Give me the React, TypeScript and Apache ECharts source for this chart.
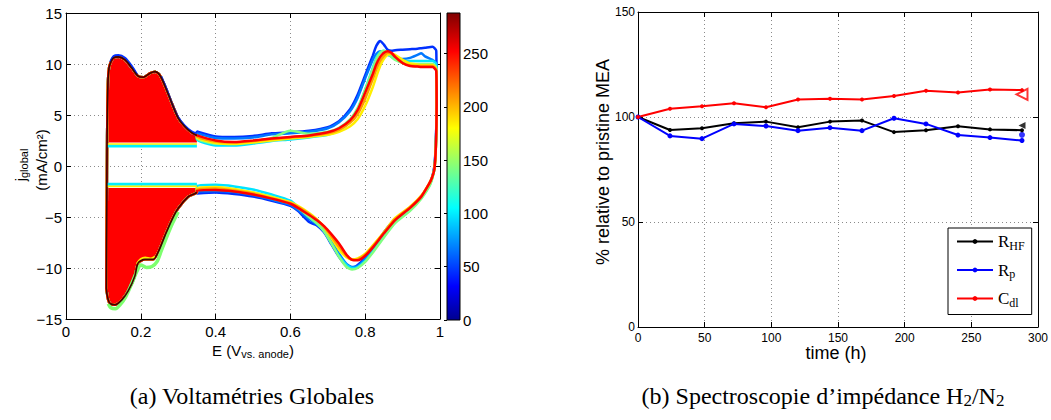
import React, { useEffect, useRef } from 'react';
import * as echarts from 'echarts';

// ================= (a) Cyclic voltammograms =================
// colour of each cycle (ageing time, h) on the jet colour scale
const CURVE_TIMES_H = [24, 48, 96, 144, 192, 216, 264];
const CURVE_COLORS = ['#0030ff', '#0078ff', '#00e4ff', '#80ff80', '#ffee00', '#ff9c00', '#ff0000'];

// shared low-potential part (hydrogen region) of the loops
const LEFT_UP_E = [0.108, 0.109, 0.110, 0.112, 0.115, 0.12, 0.127, 0.14, 0.158, 0.176, 0.193, 0.207, 0.225, 0.238, 0.251, 0.265, 0.283, 0.30, 0.318, 0.336, 0.35];
const LEFT_UP_J = [-12.0, -4.0, 3.0, 8.0, 9.6, 10.2, 10.6, 10.7, 10.4, 9.6, 8.8, 8.7, 9.1, 9.25, 8.9, 7.8, 6.15, 4.7, 3.85, 3.27, 3.0];
const LEFT_DOWN_E = [0.35, 0.345, 0.327, 0.30, 0.283, 0.265, 0.247, 0.233, 0.211, 0.193, 0.184, 0.167, 0.15, 0.131, 0.118, 0.112, 0.108];
const LEFT_DOWN_J = [-2.6, -2.7, -3.0, -4.15, -5.3, -6.8, -8.4, -9.15, -9.15, -9.5, -10.8, -12.2, -13.1, -13.6, -13.5, -13.0, -12.0];

// anodic sweep (0.35 -> 0.99 V)
const E_ANODIC = [0.35, 0.40, 0.45, 0.50, 0.55, 0.60, 0.65, 0.70, 0.73, 0.76, 0.78, 0.80, 0.82, 0.83, 0.84, 0.85, 0.86, 0.87, 0.88, 0.90, 0.92, 0.94, 0.95, 0.96, 0.98, 0.99];
const J_AN_24 = [3.4, 2.9, 2.85, 2.95, 3.2, 3.3, 3.45, 3.8, 4.4, 5.6, 7.0, 8.9, 10.8, 11.8, 12.25, 11.9, 11.4, 11.3, 11.35, 11.4, 11.45, 11.5, 11.55, 11.6, 11.7, 11.3];
const J_AN_48 = [3.2, 2.75, 2.7, 2.8, 3.1, 3.2, 3.35, 3.7, 4.3, 5.4, 6.7, 8.6, 10.4, 11.0, 11.25, 11.1, 10.9, 10.8, 10.65, 10.5, 10.6, 10.9, 11.05, 10.75, 10.4, 10.1];
const J_AN_96 = [2.6, 2.0, 2.0, 2.2, 2.45, 2.6, 2.8, 3.05, 3.5, 4.4, 5.6, 7.5, 9.6, 10.6, 11.15, 11.3, 11.0, 10.7, 10.5, 10.3, 10.3, 10.3, 10.3, 10.3, 10.3, 10.0];
const J_AN_144 = [2.7, 2.2, 2.2, 2.4, 2.75, 3.45, 3.15, 3.35, 3.75, 4.6, 5.7, 7.5, 9.5, 10.5, 11.1, 11.3, 11.1, 10.7, 10.4, 10.1, 10.0, 10.0, 10.0, 10.0, 10.0, 9.7];
const J_AN_192 = [2.8, 2.25, 2.15, 2.3, 2.5, 2.7, 2.85, 3.05, 3.35, 3.9, 4.6, 5.9, 7.7, 8.8, 9.8, 10.5, 10.9, 11.0, 10.9, 10.4, 10.05, 9.95, 9.9, 9.9, 9.9, 9.5];
const J_AN_216 = [2.9, 2.4, 2.3, 2.45, 2.65, 2.8, 2.95, 3.2, 3.55, 4.25, 5.1, 6.6, 8.5, 9.5, 10.3, 10.8, 11.1, 11.05, 10.75, 10.1, 9.85, 9.8, 9.8, 9.8, 9.8, 9.4];
const J_AN_264 = [3.0, 2.5, 2.35, 2.5, 2.7, 2.85, 3.0, 3.3, 3.7, 4.5, 5.5, 7.2, 9.0, 10.0, 10.7, 11.1, 11.25, 11.1, 10.7, 10.1, 9.8, 9.75, 9.7, 9.7, 9.7, 9.3];

// cathodic sweep (0.99 -> 0.35 V)
const E_CATHODIC = [0.991, 0.989, 0.985, 0.978, 0.97, 0.95, 0.92, 0.88, 0.85, 0.82, 0.80, 0.78, 0.765, 0.75, 0.73, 0.71, 0.69, 0.67, 0.65, 0.62, 0.60, 0.55, 0.50, 0.45, 0.40, 0.35];
const J_CA_24 = [6.5, 2.5, 0.0, -1.3, -2.0, -3.1, -4.2, -5.2, -6.5, -8.1, -9.0, -9.7, -10.0, -9.8, -8.9, -7.7, -6.5, -5.8, -5.5, -4.4, -3.9, -3.4, -3.0, -2.75, -2.6, -2.7];
const J_CA_48 = [6.3, 2.3, -0.1, -1.2, -1.9, -3.0, -4.2, -5.4, -6.7, -8.2, -9.1, -9.8, -9.9, -9.6, -8.6, -7.4, -6.3, -5.7, -5.2, -4.3, -3.8, -3.3, -2.85, -2.55, -2.45, -2.5];
const J_CA_96 = [6.0, 2.0, -0.3, -1.3, -2.0, -3.1, -4.3, -5.5, -6.9, -8.4, -9.3, -9.9, -10.0, -9.7, -8.8, -7.6, -6.4, -5.6, -5.0, -4.0, -3.4, -2.8, -2.3, -2.0, -1.85, -1.95];
const J_CA_144 = [6.0, 2.0, -0.3, -1.4, -2.1, -3.2, -4.4, -5.6, -7.0, -8.5, -9.4, -10.0, -10.15, -9.9, -8.9, -7.6, -6.4, -5.6, -5.0, -4.1, -3.6, -3.0, -2.6, -2.3, -2.1, -2.2];
const J_CA_192 = [5.8, 1.8, -0.3, -1.2, -1.8, -2.9, -4.0, -5.1, -6.5, -7.8, -8.6, -9.05, -9.15, -8.95, -8.2, -7.1, -6.0, -5.2, -4.6, -3.9, -3.55, -3.05, -2.6, -2.25, -2.05, -2.15];
const J_CA_216 = [5.9, 1.9, -0.25, -1.2, -1.8, -2.95, -4.05, -5.2, -6.55, -7.9, -8.7, -9.15, -9.2, -8.8, -7.9, -6.9, -5.95, -5.25, -4.7, -4.0, -3.65, -3.15, -2.7, -2.4, -2.2, -2.3];
const J_CA_264 = [6.0, 2.0, -0.3, -1.2, -1.8, -3.0, -4.1, -5.3, -6.6, -8.0, -8.8, -9.25, -9.2, -8.7, -7.6, -6.7, -5.9, -5.3, -4.8, -4.1, -3.7, -3.2, -2.8, -2.5, -2.35, -2.4];

const J_ANODIC = [J_AN_24, J_AN_48, J_AN_96, J_AN_144, J_AN_192, J_AN_216, J_AN_264];
const J_CATHODIC = [J_CA_24, J_CA_48, J_CA_96, J_CA_144, J_CA_192, J_CA_216, J_CA_264];

// edges of older cycles peeking out around the filled region
const BLUE_TOP_E = [0.118, 0.127, 0.14, 0.158, 0.176, 0.19];
const BLUE_TOP_J = [10.2, 10.78, 10.88, 10.62, 9.82, 9.0];
const BLUE_SLOPE_E = [0.255, 0.27, 0.285, 0.30, 0.318, 0.336, 0.35];
const BLUE_SLOPE_J = [8.8, 7.5, 6.0, 4.8, 3.95, 3.4, 3.2];
const GREEN_LOW_E = [0.30, 0.285, 0.27, 0.255, 0.243, 0.23, 0.215, 0.2, 0.19, 0.175, 0.16, 0.145, 0.132, 0.12, 0.113];
const GREEN_LOW_J = [-4.5, -5.6, -6.9, -8.3, -9.4, -9.85, -9.95, -9.7, -10.3, -11.6, -12.8, -13.6, -14.0, -13.9, -13.5];
const YELLOW_LOW_E = [0.238, 0.225, 0.212, 0.2, 0.19];
const YELLOW_LOW_J = [-8.9, -9.1, -9.0, -9.15, -9.6];

// base lines of the integrated H-adsorption areas
const BAND_E = [0.11, 0.35];
const FILL_BASE_UP = 2.3;
const FILL_BASE_DOWN = -2.15;
const BAND_UP_LEVELS = [1.95, 2.15];
const BAND_DOWN_LEVELS = [-1.8, -2.0];
const BAND_COLORS = ['#00f0ff', '#ffee00'];

const COLORBAR_MAX = 288;
const JET_STOPS = [
  { offset: 0, color: '#00008f' },
  { offset: 0.11, color: '#0000ff' },
  { offset: 0.365, color: '#00ffff' },
  { offset: 0.625, color: '#ffff00' },
  { offset: 0.875, color: '#ff0000' },
  { offset: 1, color: '#800000' },
];

// ================= (b) Impedance spectroscopy =================
const TIME_H = [0, 24, 48, 72, 96, 120, 144, 168, 192, 216, 240, 264, 288];
const R_HF = [100, 93.8, 94.6, 97.0, 97.8, 95.1, 97.8, 98.3, 92.8, 93.7, 95.6, 94.1, 93.7];
const R_P = [100, 91.0, 89.7, 96.7, 95.7, 93.5, 94.9, 93.5, 99.4, 96.7, 91.4, 90.2, 88.8];
const C_DL = [100, 103.9, 105.1, 106.5, 104.6, 108.3, 108.7, 108.3, 110.0, 112.5, 111.7, 113.1, 112.8];
const END_TIME = 288;
const END_VALUES = [96.0, 91.5, 110.8];

const SERIES_NAMES = ['RHF', 'Rp', 'Cdl'];
const LEGEND_LABELS: Record<string, string> = { RHF: '{m|R}{s|HF}', Rp: '{m|R}{s|p}', Cdl: '{m|C}{s|dl}' };

const SANS = "'Liberation Sans', Arial, Helvetica, sans-serif";
const SERIF = "'Liberation Serif', 'Times New Roman', serif";

const pairs = (xs: number[], ys: number[]) => xs.map((x, i) => [x, ys[i]]);
const minusFmt = (v: number) => (v < 0 ? '\u2212' + Math.abs(v) : String(v));

function buildOption(): any {
  const gridLine = { show: true, lineStyle: { color: '#8a8a8a', type: [1, 3], width: 1 } };
  const axLine = { show: true, onZero: false, lineStyle: { color: '#000', width: 1 } };
  const tickIn = { show: true, inside: true, length: 5, lineStyle: { color: '#000', width: 1 } };

  const leftUp = pairs(LEFT_UP_E, LEFT_UP_J);
  const leftDown = pairs(LEFT_DOWN_E, LEFT_DOWN_J);

  const fillUp = [[BAND_E[0], FILL_BASE_UP], ...leftUp.filter(p => p[1] > FILL_BASE_UP && p[0] >= BAND_E[0]), [BAND_E[1], FILL_BASE_UP]];
  const fillDown = [[BAND_E[1], FILL_BASE_DOWN], ...leftDown.filter(p => p[1] < FILL_BASE_DOWN), [BAND_E[0], FILL_BASE_DOWN]];

  const cvSeries: any[] = CURVE_TIMES_H.map((t, k) => ({
    type: 'line',
    name: 't' + t,
    xAxisIndex: 0,
    yAxisIndex: 0,
    showSymbol: false,
    smooth: 0.2,
    data: [...leftUp, ...pairs(E_ANODIC, J_ANODIC[k]), ...pairs(E_CATHODIC, J_CATHODIC[k]), ...leftDown],
    lineStyle: { color: CURVE_COLORS[k], width: 2.5 },
    itemStyle: { color: CURVE_COLORS[k] },
    silent: true,
  }));

  const edgeLine = (data: number[][], color: string, width: number) => ({
    type: 'line', xAxisIndex: 0, yAxisIndex: 0, showSymbol: false, smooth: 0.3, silent: true,
    data, lineStyle: { color, width }, itemStyle: { color },
  });

  const bandSeries: any[] = [];
  BAND_COLORS.forEach((c, i) => {
    bandSeries.push(edgeLine(pairs(BAND_E, [BAND_UP_LEVELS[i], BAND_UP_LEVELS[i]]), c, i === 0 ? 3 : 1.6));
    bandSeries.push(edgeLine(pairs(BAND_E, [BAND_DOWN_LEVELS[i], BAND_DOWN_LEVELS[i]]), c, i === 0 ? 3 : 1.6));
  });

  const polySeries = (pts: number[][]) => ({
    type: 'custom', xAxisIndex: 0, yAxisIndex: 0, silent: true,
    data: pts, encode: { x: 0, y: 1 },
    renderItem: (params: any, api: any) => {
      if (params.dataIndex !== 0) return null;
      return { type: 'polygon', shape: { points: pts.map(p => api.coord(p)) }, style: { fill: '#ff0000', stroke: 'none' } };
    },
  });

  const colorbar = {
    type: 'custom', xAxisIndex: 2, yAxisIndex: 2, silent: true,
    data: [[0, 0], [1, COLORBAR_MAX]], encode: { x: 0, y: 1 },
    renderItem: (params: any, api: any) => {
      if (params.dataIndex !== 0) return null;
      const p0 = api.coord([0, 0]);
      const p1 = api.coord([1, COLORBAR_MAX]);
      return {
        type: 'rect',
        shape: { x: p0[0], y: p1[1], width: p1[0] - p0[0], height: p0[1] - p1[1] },
        style: { fill: new echarts.graphic.LinearGradient(0, 1, 0, 0, JET_STOPS), stroke: '#000', lineWidth: 1 },
      };
    },
  };

  const eisColors = ['#000000', '#0000ff', '#ff0000'];
  const eisData = [R_HF, R_P, C_DL];
  const eisSeries = SERIES_NAMES.map((n, i) => ({
    type: 'line', name: n, xAxisIndex: 3, yAxisIndex: 3,
    data: pairs(TIME_H, eisData[i]),
    symbol: 'circle', symbolSize: i === 1 ? 5 : 4, showSymbol: true,
    lineStyle: { color: eisColors[i], width: 2 }, itemStyle: { color: eisColors[i] },
    silent: true,
  }));
  const endMarkers = {
    type: 'scatter', xAxisIndex: 3, yAxisIndex: 3, silent: true,
    data: [
      { value: [END_TIME, END_VALUES[0]], symbol: 'triangle', symbolSize: 7, symbolRotate: 90, itemStyle: { color: '#000' } },
      { value: [END_TIME, END_VALUES[1]], symbol: 'circle', symbolSize: 6, itemStyle: { color: '#0000ff' } },
      { value: [END_TIME, END_VALUES[2]], symbol: 'emptyTriangle', symbolSize: 11, symbolRotate: 90, itemStyle: { color: '#ff0000', borderWidth: 1.5 } },
    ],
  };

  return {
    animation: false,
    backgroundColor: '#ffffff',
    textStyle: { fontFamily: SANS },
    grid: [
      { left: 66, top: 13, width: 374, height: 306 },
      { left: 447, top: 13, width: 13, height: 307 },
      { left: 638, top: 12, width: 400, height: 315 },
    ],
    xAxis: [
      { type: 'value', gridIndex: 0, min: 0, max: 1, interval: 0.2, position: 'bottom', axisLine: axLine, axisTick: tickIn,
        axisLabel: { color: '#000', fontSize: 15, fontFamily: SANS, margin: 5, formatter: (v: number) => String(+v.toFixed(1)) },
        splitLine: gridLine },
      { type: 'value', gridIndex: 0, min: 0, max: 1, interval: 0.2, position: 'top', axisLine: axLine, axisTick: tickIn,
        axisLabel: { show: false }, splitLine: { show: false } },
      { type: 'value', gridIndex: 1, min: 0, max: 1, show: false },
      { type: 'value', gridIndex: 2, min: 0, max: 300, interval: 50, position: 'bottom', axisLine: axLine, axisTick: tickIn,
        axisLabel: { color: '#000', fontSize: 12, fontFamily: SANS, margin: 5 }, splitLine: gridLine },
      { type: 'value', gridIndex: 2, min: 0, max: 300, interval: 50, position: 'top', axisLine: axLine, axisTick: tickIn,
        axisLabel: { show: false }, splitLine: { show: false } },
    ],
    yAxis: [
      { type: 'value', gridIndex: 0, min: -15, max: 15, interval: 5, position: 'left', axisLine: axLine, axisTick: tickIn,
        axisLabel: { color: '#000', fontSize: 15, fontFamily: SANS, margin: 4, formatter: minusFmt }, splitLine: gridLine },
      { type: 'value', gridIndex: 0, min: -15, max: 15, interval: 5, position: 'right', axisLine: axLine, axisTick: tickIn,
        axisLabel: { show: false }, splitLine: { show: false } },
      { type: 'value', gridIndex: 1, min: 0, max: COLORBAR_MAX, interval: 50, position: 'right', z: 5,
        axisLine: { show: false }, axisTick: { show: true, inside: true, length: 3, lineStyle: { color: '#000' } },
        axisLabel: { color: '#000', fontSize: 15, fontFamily: SANS, margin: 3, showMaxLabel: false }, splitLine: { show: false } },
      { type: 'value', gridIndex: 2, min: 0, max: 150, interval: 50, position: 'left', axisLine: axLine, axisTick: tickIn,
        axisLabel: { color: '#000', fontSize: 12, fontFamily: SANS, margin: 3 }, splitLine: gridLine },
      { type: 'value', gridIndex: 2, min: 0, max: 150, interval: 50, position: 'right', axisLine: axLine, axisTick: tickIn,
        axisLabel: { show: false }, splitLine: { show: false } },
    ],
    legend: {
      data: SERIES_NAMES,
      orient: 'vertical',
      left: 948,
      top: 228,
      padding: [5, 7, 6, 8],
      itemGap: 10,
      itemWidth: 36,
      itemHeight: 6,
      backgroundColor: '#ffffff',
      borderColor: '#000000',
      borderWidth: 1,
      borderRadius: 0,
      selectedMode: false,
      formatter: (n: string) => LEGEND_LABELS[n],
      textStyle: {
        color: '#000', fontFamily: SERIF, fontSize: 17,
        rich: {
          m: { fontFamily: SERIF, fontSize: 17, lineHeight: 20, color: '#000' },
          s: { fontFamily: SERIF, fontSize: 12, lineHeight: 8, verticalAlign: 'bottom', color: '#000' },
        },
      },
    },
    graphic: [
      { type: 'text', x: 20, y: 165, rotation: Math.PI / 2, silent: true,
        style: { text: '{a|j}{b|global}', align: 'center', verticalAlign: 'middle', fill: '#000',
          rich: { a: { fontFamily: SANS, fontSize: 15, lineHeight: 18 }, b: { fontFamily: SANS, fontSize: 11, lineHeight: 8, verticalAlign: 'bottom' } } } },
      { type: 'text', x: 41, y: 160, rotation: Math.PI / 2, silent: true,
        style: { text: '(mA/cm\u00B2)', align: 'center', verticalAlign: 'middle', fill: '#000', font: `15px ${SANS}` } },
      { type: 'text', x: 253, y: 350, silent: true,
        style: { text: '{a|E (V}{b|vs. anode}{a|)}', align: 'center', verticalAlign: 'middle', fill: '#000',
          rich: { a: { fontFamily: SANS, fontSize: 15, lineHeight: 18 }, b: { fontFamily: SANS, fontSize: 11, lineHeight: 8, verticalAlign: 'bottom' } } } },
      { type: 'text', x: 603, y: 162, rotation: Math.PI / 2, silent: true,
        style: { text: '% relative to pristine MEA', align: 'center', verticalAlign: 'middle', fill: '#000', font: `18px ${SANS}` } },
      { type: 'text', x: 836, y: 353, silent: true,
        style: { text: 'time (h)', align: 'center', verticalAlign: 'middle', fill: '#000', font: `18px ${SANS}` } },
      { type: 'text', x: 252, y: 396, silent: true,
        style: { text: '(a) Voltamétries Globales', align: 'center', verticalAlign: 'middle', fill: '#000', font: `24px ${SERIF}` } },
      { type: 'text', x: 823, y: 396, silent: true,
        style: { text: '(b) Spectroscopie d\u2019impédance H{s|2}/N{s|2}', align: 'center', verticalAlign: 'middle', fill: '#000',
          font: `24px ${SERIF}`, lineHeight: 26,
          rich: { s: { fontFamily: SERIF, fontSize: 17, lineHeight: 8, verticalAlign: 'bottom' } } } },
    ],
    series: [
      ...cvSeries,
      edgeLine(pairs(GREEN_LOW_E, GREEN_LOW_J), '#7dff6e', 3.5),
      ...bandSeries,
      polySeries(fillUp),
      polySeries(fillDown),
      edgeLine(pairs(BLUE_TOP_E, BLUE_TOP_J), '#0030ff', 1.8),
      edgeLine(pairs(BLUE_SLOPE_E, BLUE_SLOPE_J), '#0030ff', 1.8),
      edgeLine(pairs(YELLOW_LOW_E, YELLOW_LOW_J), '#ffee00', 2.5),
      edgeLine([...leftDown, ...leftUp], '#3a0800', 1.6),
      colorbar,
      ...eisSeries,
      endMarkers,
    ],
  };
}

export default function App() {
  const ref = useRef<HTMLDivElement>(null);
  useEffect(() => {
    if (!ref.current) return;
    const chart = echarts.init(ref.current, undefined, { renderer: 'svg' });
    chart.setOption(buildOption());
    return () => chart.dispose();
  }, []);
  return (
    <div
      ref={ref}
      style={{ position: 'absolute', left: 0, top: 0, width: 1051, height: 420, background: '#ffffff' }}
    />
  );
}
